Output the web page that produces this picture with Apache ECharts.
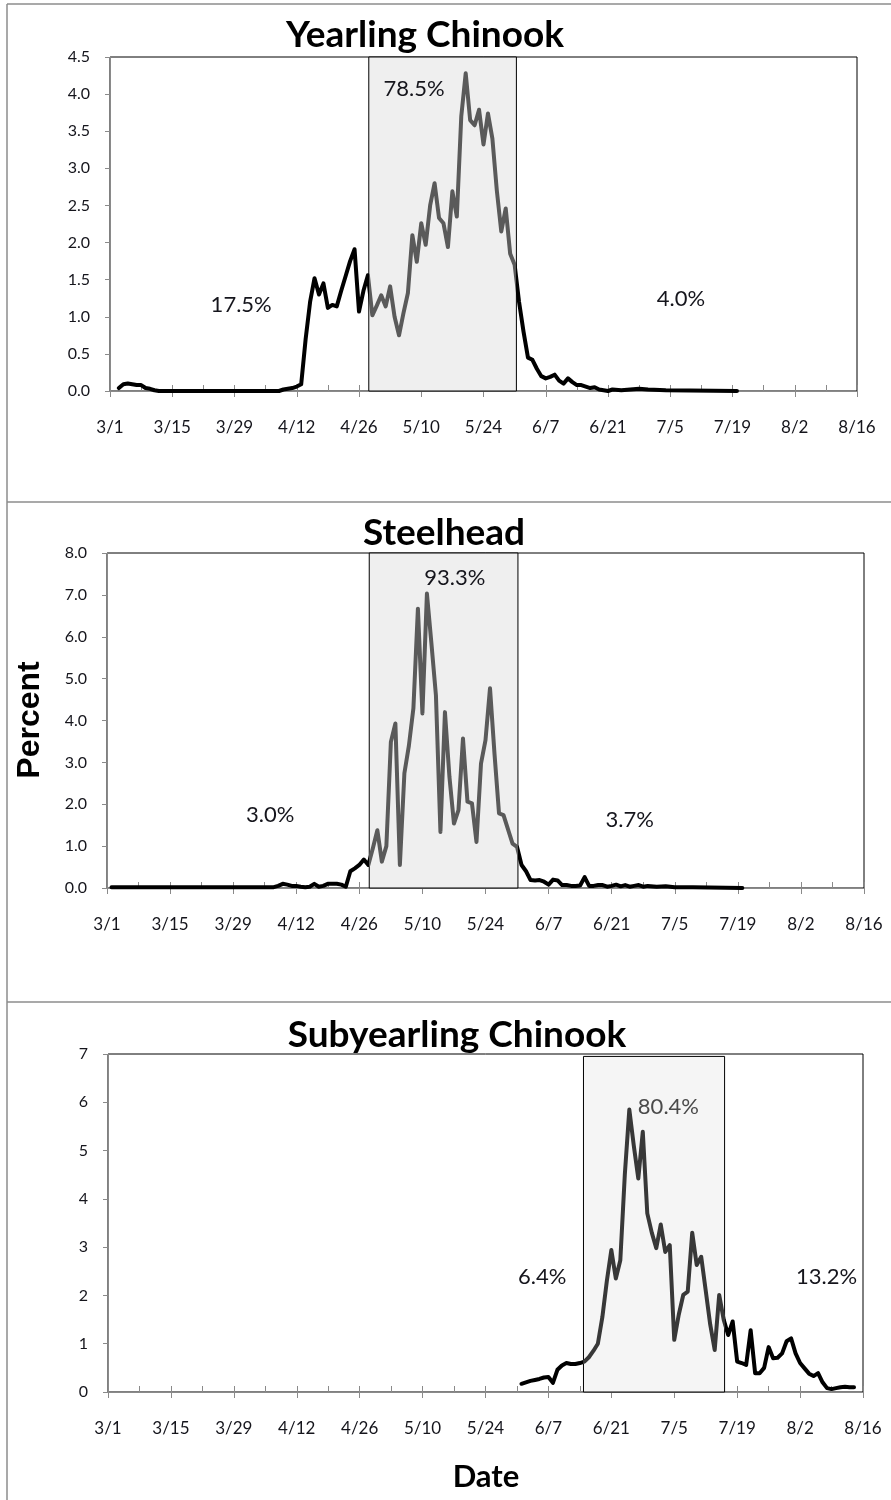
<!DOCTYPE html>
<html>
<head>
<meta charset="utf-8">
<script src="https://cdn.jsdelivr.net/npm/echarts@6/dist/echarts.min.js"></script>
<style>
  html, body { margin: 0; padding: 0; background: #fff; }
  #chart { width: 891px; height: 1500px; }
</style>
</head>
<body>
<div id="chart"></div>
<script>
// day index: 0 = 3/1, 168 = 8/16
const xTickLabels = ['3/1', '3/15', '3/29', '4/12', '4/26', '5/10', '5/24', '6/7', '6/21', '7/5', '7/19', '8/2', '8/16']
const panelTitles = ['Yearling Chinook', 'Steelhead', 'Subyearling Chinook']

const ycDays = [2, 3, 4, 5, 6, 7, 8, 9, 10, 11, 38, 39, 40, 41, 42, 43, 44, 45, 46, 47, 48, 49, 50, 51, 52, 53, 54, 55, 56, 57, 58, 59, 60, 61, 62, 63, 64, 65, 66, 67, 68, 69, 70, 71, 72, 73, 74, 75, 76, 77, 78, 79, 80, 81, 82, 83, 84, 85, 86, 87, 88, 89, 90, 91, 92, 93, 94, 95, 96, 97, 98, 99, 100, 101, 102, 103, 104, 105, 106, 107, 108, 109, 110, 111, 112, 113, 115, 117, 119, 121, 125, 141]
const ycValues = [0.04, 0.09, 0.10, 0.09, 0.08, 0.08, 0.04, 0.03, 0.01, 0, 0, 0.02, 0.03, 0.04, 0.06, 0.09, 0.70, 1.20, 1.52, 1.30, 1.45, 1.12, 1.16, 1.14, 1.35, 1.55, 1.75, 1.91, 1.07, 1.35, 1.56, 1.02, 1.15, 1.29, 1.14, 1.41, 1.00, 0.75, 1.05, 1.32, 2.10, 1.74, 2.26, 1.97, 2.50, 2.80, 2.33, 2.26, 1.94, 2.69, 2.35, 3.70, 4.28, 3.65, 3.58, 3.79, 3.32, 3.74, 3.40, 2.70, 2.15, 2.46, 1.85, 1.70, 1.20, 0.80, 0.45, 0.42, 0.30, 0.20, 0.17, 0.19, 0.22, 0.14, 0.10, 0.17, 0.12, 0.08, 0.08, 0.06, 0.04, 0.05, 0.02, 0.01, 0, 0.02, 0.01, 0.02, 0.03, 0.02, 0.01, 0]
const ycWindow = [58.2, 91.4]
const ycNotes = ['17.5%', '78.5%', '4.0%']

const shDays = [1, 37, 38, 39, 40, 41, 42, 43, 44, 45, 46, 47, 48, 49, 50, 51, 52, 53, 54, 55, 56, 57, 58, 59, 60, 61, 62, 63, 64, 65, 66, 67, 68, 69, 70, 71, 72, 73, 74, 75, 76, 77, 78, 79, 80, 81, 82, 83, 84, 85, 86, 87, 88, 89, 90, 91, 92, 93, 94, 95, 96, 97, 98, 99, 100, 101, 102, 103, 104, 105, 106, 107, 108, 109, 110, 111, 112, 113, 114, 115, 116, 117, 118, 119, 120, 122, 124, 126, 130, 141]
const shValues = [0.02, 0.02, 0.05, 0.10, 0.08, 0.05, 0.05, 0.03, 0.02, 0.03, 0.10, 0.03, 0.05, 0.10, 0.10, 0.10, 0.08, 0.03, 0.40, 0.47, 0.55, 0.68, 0.55, 0.95, 1.38, 0.63, 1.00, 3.49, 3.93, 0.55, 2.74, 3.40, 4.29, 6.67, 4.17, 7.03, 5.84, 4.60, 1.34, 4.20, 2.65, 1.54, 1.86, 3.57, 2.06, 2.02, 1.10, 2.97, 3.53, 4.77, 3.20, 1.78, 1.74, 1.40, 1.06, 0.98, 0.55, 0.40, 0.19, 0.18, 0.19, 0.15, 0.08, 0.20, 0.18, 0.07, 0.07, 0.05, 0.05, 0.06, 0.26, 0.05, 0.05, 0.07, 0.07, 0.03, 0.05, 0.08, 0.04, 0.07, 0.03, 0.05, 0.07, 0.03, 0.05, 0.03, 0.04, 0.02, 0.02, 0]
const shWindow = [58.2, 91.2]
const shNotes = ['3.0%', '93.3%', '3.7%']

const syDays = [92, 93, 94, 95, 96, 97, 98, 99, 100, 101, 102, 103, 104, 105, 106, 107, 108, 109, 110, 111, 112, 113, 114, 115, 116, 117, 118, 119, 120, 121, 122, 123, 124, 125, 126, 127, 128, 129, 130, 131, 132, 133, 134, 135, 136, 137, 138, 139, 140, 141, 142, 143, 144, 145, 146, 147, 148, 149, 150, 151, 152, 153, 154, 155, 156, 157, 158, 159, 160, 161, 162, 163, 164, 165, 166]
const syValues = [0.17, 0.20, 0.23, 0.25, 0.27, 0.30, 0.31, 0.19, 0.46, 0.55, 0.60, 0.58, 0.58, 0.60, 0.63, 0.72, 0.85, 1.00, 1.55, 2.30, 2.94, 2.35, 2.73, 4.50, 5.85, 5.10, 4.42, 5.39, 3.70, 3.30, 2.98, 3.47, 2.90, 3.04, 1.08, 1.60, 2.01, 2.08, 3.30, 2.63, 2.80, 2.10, 1.40, 0.87, 2.01, 1.50, 1.18, 1.46, 0.63, 0.60, 0.56, 1.28, 0.39, 0.39, 0.50, 0.93, 0.70, 0.71, 0.80, 1.05, 1.11, 0.80, 0.60, 0.49, 0.38, 0.33, 0.39, 0.20, 0.08, 0.06, 0.08, 0.10, 0.11, 0.10, 0.10]
const syWindow = [105.8, 137.2]
const syNotes = ['6.4%', '80.4%', '13.2%']

const pairs = (days, values) => days.map((d, i) => [d, values[i]])

const textFont = 'Lato, "Open Sans", sans-serif'
const labelColor = '#15151c'
const axisGray = '#8a8a8a'

const panels = [
  {
    grid: { left: 110, right: 34, top: 57, height: 334 },
    yMax: 4.5, yStep: 0.5, decimals: 1,
    data: pairs(ycDays, ycValues), window: ycWindow, windowTop: 4.5,
    fill: '#efefef', inside: '#5a5a5a',
    notes: ycNotes, notePos: [[29.5, 1.16], [68.4, 4.07], [128.4, 1.24]],
    noteColors: [labelColor, labelColor, labelColor]
  },
  {
    grid: { left: 107, right: 27, top: 553, height: 335 },
    yMax: 8, yStep: 1, decimals: 1,
    data: pairs(shDays, shValues), window: shWindow, windowTop: 8,
    fill: '#efefef', inside: '#5a5a5a',
    notes: shNotes, notePos: [[36.2, 1.74], [77.2, 7.4], [116, 1.62]],
    noteColors: [labelColor, labelColor, labelColor]
  },
  {
    grid: { left: 108, right: 28, top: 1054, height: 338 },
    yMax: 7, yStep: 1, decimals: 0,
    data: pairs(syDays, syValues), window: syWindow, windowTop: 6.95,
    fill: '#f5f5f5', inside: '#383838',
    notes: syNotes, notePos: [[96.6, 2.38], [124.7, 5.9], [159.9, 2.38]],
    noteColors: [labelColor, '#4a4a4a', labelColor]
  }
]

const grids = []
const xAxes = []
const yAxes = []
const series = []
const visualMaps = []

panels.forEach((p, i) => {
  grids.push(Object.assign({
    show: true,
    backgroundColor: '#fff',
    borderColor: '#000',
    borderWidth: 1
  }, p.grid))

  // major ticks below the axis, one label per two weeks
  xAxes.push({
    type: 'value', gridIndex: i, position: 'bottom', min: 0, max: 168, interval: 14,
    axisLine: { show: true, lineStyle: { color: axisGray, width: 1 } },
    axisTick: { show: true, inside: false, length: 6, lineStyle: { color: axisGray } },
    axisLabel: {
      margin: 28, color: labelColor, fontFamily: textFont, fontSize: 17,
      formatter: v => xTickLabels[v / 14]
    },
    splitLine: { show: false }
  })
  // weekly ticks pointing up into the plot: a top axis shifted down onto the bottom line
  xAxes.push({
    type: 'value', gridIndex: i, position: 'top', offset: -p.grid.height,
    min: 0, max: 168, interval: 7,
    axisLine: { show: false },
    axisTick: { show: true, inside: false, length: 6, lineStyle: { color: axisGray } },
    axisLabel: { show: false },
    splitLine: { show: false }
  })

  yAxes.push({
    type: 'value', gridIndex: i, min: 0, max: p.yMax, interval: p.yStep,
    axisLine: { show: true, lineStyle: { color: axisGray, width: 1 } },
    axisTick: { show: true, length: 5, lineStyle: { color: axisGray } },
    axisLabel: {
      margin: 20, color: labelColor, fontFamily: textFont, fontSize: 16,
      formatter: v => v.toFixed(p.decimals)
    },
    splitLine: { show: false }
  })

  const lineIndex = series.length
  series.push({
    type: 'line',
    xAxisIndex: i * 2,
    yAxisIndex: i,
    data: p.data,
    showSymbol: false,
    symbol: 'none',
    lineStyle: { width: 4, join: 'round', cap: 'round' },
    markArea: {
      silent: true,
      itemStyle: { color: p.fill, borderColor: '#000', borderWidth: 1 },
      data: [[{ coord: [p.window[0], 0] }, { coord: [p.window[1], p.windowTop] }]]
    },
    z: 3
  })
  visualMaps.push({
    type: 'piecewise', show: false, seriesIndex: lineIndex, dimension: 0,
    pieces: [
      { lte: p.window[0], color: '#000' },
      { gt: p.window[0], lte: p.window[1], color: p.inside },
      { gt: p.window[1], color: '#000' }
    ]
  })

  series.push({
    type: 'scatter',
    xAxisIndex: i * 2,
    yAxisIndex: i,
    symbolSize: 0,
    silent: true,
    z: 6,
    itemStyle: { opacity: 1 },
    data: p.notePos.map((pos, k) => ({
      value: pos,
      label: {
        show: true, position: 'inside', formatter: p.notes[k],
        color: p.noteColors[k], fontFamily: textFont, fontSize: 22
      }
    }))
  })
})

const frameColor = '#8c8c8c'
const titleFont = 'bold 37px ' + textFont
const graphics = [
  { type: 'line', shape: { x1: 7, y1: 4, x2: 891, y2: 4 }, style: { stroke: frameColor, lineWidth: 1.5 } },
  { type: 'line', shape: { x1: 7, y1: 4, x2: 7, y2: 1500 }, style: { stroke: frameColor, lineWidth: 1.5 } },
  { type: 'line', shape: { x1: 7, y1: 502, x2: 891, y2: 502 }, style: { stroke: frameColor, lineWidth: 1.5 } },
  { type: 'line', shape: { x1: 7, y1: 1002, x2: 891, y2: 1002 }, style: { stroke: frameColor, lineWidth: 1.5 } },
  { type: 'text', x: 425, y: 35, style: { text: panelTitles[0], font: titleFont, fill: '#000', align: 'center', verticalAlign: 'middle' } },
  { type: 'text', x: 444, y: 533, style: { text: panelTitles[1], font: titleFont, fill: '#000', align: 'center', verticalAlign: 'middle' } },
  { type: 'text', x: 457, y: 1035, style: { text: panelTitles[2], font: titleFont, fill: '#000', align: 'center', verticalAlign: 'middle' } },
  { type: 'text', x: 30, y: 720, rotation: Math.PI / 2, style: { text: 'Percent', font: 'bold 32px "Liberation Sans", Arial, sans-serif', fill: '#000', align: 'center', verticalAlign: 'middle' } },
  { type: 'text', x: 486, y: 1477, style: { text: 'Date', font: 'bold 31px ' + textFont, fill: '#000', align: 'center', verticalAlign: 'middle' } }
]

const chart = echarts.init(document.getElementById('chart'), null, { renderer: 'canvas' })
chart.setOption({
  backgroundColor: '#fff',
  animation: false,
  grid: grids,
  xAxis: xAxes,
  yAxis: yAxes,
  visualMap: visualMaps,
  series: series,
  graphic: graphics
})
</script>
</body>
</html>
